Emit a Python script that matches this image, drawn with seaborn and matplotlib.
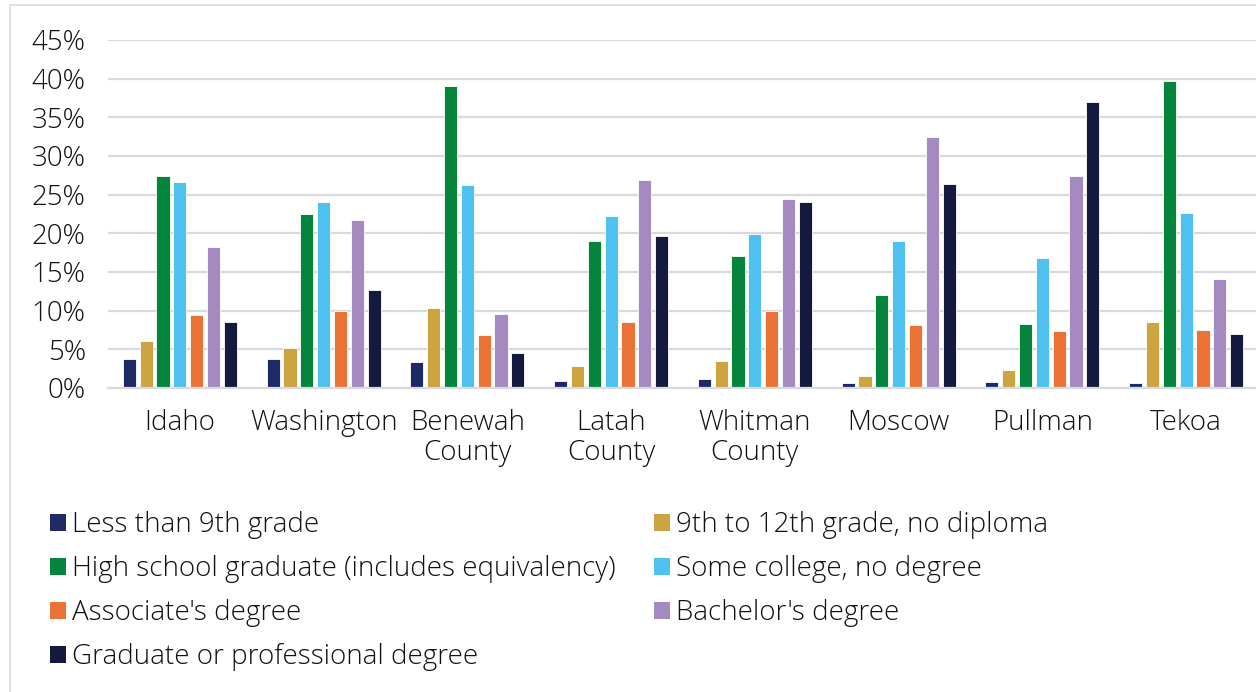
import matplotlib
matplotlib.use("Agg")
import matplotlib.pyplot as plt
from matplotlib.patches import Rectangle, Patch
from matplotlib.ticker import PercentFormatter
import pandas as pd
import seaborn as sns

places = ["Idaho", "Washington", "Benewah\nCounty", "Latah\nCounty",
          "Whitman\nCounty", "Moscow", "Pullman", "Tekoa"]

levels = [
    "Less than 9th grade",
    "9th to 12th grade, no diploma",
    "High school graduate (includes equivalency)",
    "Some college, no degree",
    "Associate's degree",
    "Bachelor's degree",
    "Graduate or professional degree",
]

# Share of population 25+ by educational attainment (%), one list per level
less_9th      = [3.7, 3.8, 3.4, 0.9, 1.1, 0.6, 0.8, 0.6]
grade_9_12    = [6.1, 5.2, 10.3, 2.8, 3.5, 1.6, 2.3, 8.5]
high_school   = [27.4, 22.5, 39.1, 19.0, 17.1, 12.0, 8.3, 39.7]
some_college  = [26.6, 24.0, 26.2, 22.3, 19.9, 19.0, 16.8, 22.6]
associate     = [9.5, 9.9, 6.9, 8.5, 9.9, 8.1, 7.4, 7.5]
bachelor      = [18.2, 21.7, 9.6, 26.9, 24.5, 32.4, 27.4, 14.1]
graduate      = [8.5, 12.7, 4.5, 19.6, 24.0, 26.4, 37.0, 7.0]

colors = ["#1f2a64", "#cca540", "#05843b", "#4fc1f1",
          "#e97234", "#a58ac1", "#141a3d"]

series = [less_9th, grade_9_12, high_school, some_college,
          associate, bachelor, graduate]
rows = []
for lvl, vals in zip(levels, series):
    for place, v in zip(places, vals):
        rows.append({"place": place, "level": lvl, "pct": v})
df = pd.DataFrame(rows)

sns.set_theme(style="white")
FONT = ["Open Sans", "DejaVu Sans"]
plt.rcParams["font.family"] = FONT
plt.rcParams["font.weight"] = "light"
plt.rcParams["text.color"] = "#111111"
FS = 20

W, H = 1256, 692
fig = plt.figure(figsize=(W / 100, H / 100), dpi=100)

# light frame around the chart area
fig.patches.append(Rectangle((10 / W, -0.1), 1.2, (H - 5) / H + 0.1,
                             transform=fig.transFigure, fill=False,
                             edgecolor="#d9d9e3", linewidth=1.2))

ax = fig.add_axes([108 / W, 1 - 388 / H, (1258 - 108) / W, (388 - 40) / H])

sns.barplot(data=df, x="place", y="pct", hue="level", hue_order=levels,
            order=places, palette=colors, saturation=1, width=0.82, gap=0.22,
            edgecolor="white", linewidth=0.6, legend=False, ax=ax)

ax.set_ylim(0, 45)
ax.set_xlim(-0.5, len(places) - 0.5)
ax.set_yticks(range(0, 46, 5))
ax.yaxis.set_major_formatter(PercentFormatter(decimals=0))
ax.grid(axis="y", color="#d9d9e3", linewidth=1.6)
ax.set_axisbelow(True)
for s in ["top", "right", "left"]:
    ax.spines[s].set_visible(False)
ax.spines["bottom"].set_color("#d9d9e3")
ax.spines["bottom"].set_linewidth(1.6)
ax.set_xlabel("")
ax.set_ylabel("")
ax.tick_params(axis="y", length=0, pad=16, labelsize=FS, labelcolor="#111111")
ax.tick_params(axis="x", length=0, pad=15, labelsize=FS, labelcolor="#111111")
for lab in ax.get_xticklabels():
    lab.set_linespacing(1.12)

handles = [Patch(facecolor=c, edgecolor="none") for c in colors]
legend_kw = dict(frameon=False, fontsize=FS, handlelength=0.58,
                 handleheight=0.58, handletextpad=0.22, labelspacing=0.58,
                 borderaxespad=0, borderpad=0)
left_idx = [0, 2, 4, 6]
right_idx = [1, 3, 5]
leg1 = fig.legend([handles[i] for i in left_idx], [levels[i] for i in left_idx],
                  loc="upper left", bbox_to_anchor=(50 / W, 1 - 511 / H),
                  **legend_kw)
leg2 = fig.legend([handles[i] for i in right_idx], [levels[i] for i in right_idx],
                  loc="upper left", bbox_to_anchor=(654 / W, 1 - 511 / H),
                  **legend_kw)

fig.savefig("out.png", dpi=100)
